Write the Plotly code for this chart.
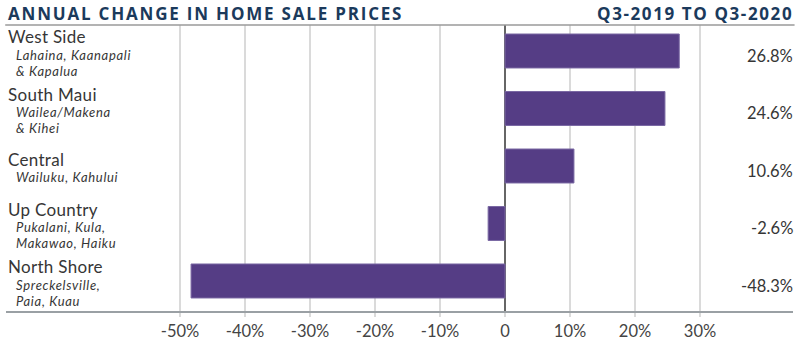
import plotly.graph_objects as go

regions = ["West Side", "South Maui", "Central", "Up Country", "North Shore"]
sublabels = [
    ["Lahaina, Kaanapali", "& Kapalua"],
    ["Wailea/Makena", "& Kihei"],
    ["Wailuku, Kahului"],
    ["Pukalani, Kula,", "Makawao, Haiku"],
    ["Spreckelsville,", "Paia, Kuau"],
]
changes = [26.8, 24.6, 10.6, -2.6, -48.3]
tick_vals = [-50, -40, -30, -20, -10, 0, 10, 20, 30]
tick_text = ["-50%", "-40%", "-30%", "-20%", "-10%", "0", "10%", "20%", "30%"]
title_left = "ANNUAL CHANGE IN HOME SALE PRICES"
title_right = "Q3-2019 TO Q3-2020"

# label vertical offsets (px, relative to bar centre; positive = up)
main_shift = [14, 14, 6, 14, 14]
sub_shift = [-4, -4, -11, -4, -4]
SUB_LH = 16

FONT = "Lato"
TFONT = "Open Sans"
BAR = "#553d85"
TXT = "#363636"
NAVY = "#1b3a5c"

fig = go.Figure()
fig.add_trace(go.Bar(
    x=changes, y=regions, orientation="h",
    marker=dict(color=BAR, line=dict(color="#7a68a3", width=1)),
    hoverinfo="skip",
))

ann = []
for i, r in enumerate(regions):
    ann.append(dict(x=0, xref="paper", y=r, yref="y",
                    text="<span style='letter-spacing:0.3px'>" + r + "</span>", showarrow=False,
                    xanchor="left", yanchor="middle", yshift=main_shift[i],
                    font=dict(family=FONT, size=17, color=TXT)))
    for j, s in enumerate(sublabels[i]):
        ann.append(dict(x=0.01, xref="paper", y=r, yref="y",
                        text="<span style='letter-spacing:0.7px'><i>" + s + "</i></span>",
                        showarrow=False, xanchor="left", yanchor="middle",
                        yshift=sub_shift[i] - SUB_LH * j,
                        font=dict(family=FONT, size=13, color=TXT)))
    v = changes[i]
    ann.append(dict(x=1, xref="paper", y=r, yref="y", text=f"{v:.1f}%", showarrow=False,
                    xanchor="right", yanchor="middle", yshift=-5, xshift=2,
                    font=dict(family=FONT, size=16.5, color=TXT)))

ann.append(dict(x=0, xref="paper", y=1, yref="paper", yshift=12,
                text="<span style='letter-spacing:1.8px'><b>" + title_left + "</b></span>",
                showarrow=False, xanchor="left", yanchor="middle",
                font=dict(family=TFONT, size=17, color=NAVY)))
ann.append(dict(x=1, xref="paper", y=1, yref="paper", yshift=12, xshift=2,
                text="<span style='letter-spacing:1.6px'><b>" + title_right + "</b></span>",
                showarrow=False, xanchor="right", yanchor="middle",
                font=dict(family=TFONT, size=17, color=NAVY)))

fig.update_layout(
    width=800, height=349,
    margin=dict(l=6, r=7, t=25, b=38),
    paper_bgcolor="white", plot_bgcolor="white",
    showlegend=False,
    bargap=0.409,
    annotations=ann,
    shapes=[dict(type="line", xref="paper", yref="paper", x0=-0.001, x1=1.002, y0=1, y1=1,
                 line=dict(color="#9a9a9a", width=1.5))],
    xaxis=dict(
        range=[-76.77, 44.3], tickvals=tick_vals, ticktext=tick_text,
        showgrid=True, gridcolor="#dadada", gridwidth=1.5,
        zeroline=True, zerolinecolor="#666666", zerolinewidth=2,
        showline=True, linecolor="#9aa0a4", linewidth=1.5,
        ticks="outside", ticklen=4, tickcolor="#dadada", tickwidth=1.5,
        tickfont=dict(family=FONT, size=16.5, color="#444444"),
        fixedrange=True,
    ),
    yaxis=dict(
        range=[4.522, -0.452], showticklabels=False, showgrid=False,
        zeroline=False, fixedrange=True,
    ),
)

fig.write_html("out.html")
